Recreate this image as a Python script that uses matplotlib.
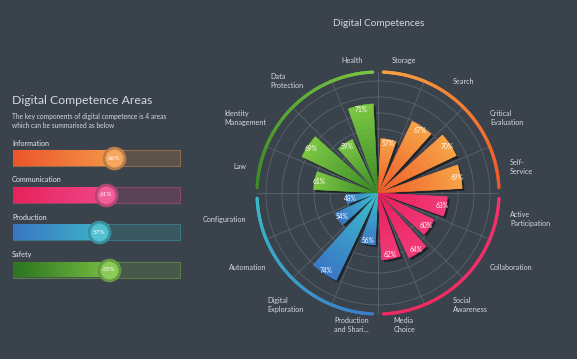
import numpy as np
import matplotlib
matplotlib.use("Agg")
import matplotlib.pyplot as plt
import matplotlib.colors as mcolors
import matplotlib.patheffects as pe
from matplotlib.collections import LineCollection

plt.rcParams['font.family'] = ['Lato', 'DejaVu Sans']

BG = "#3a424b"
TXT = "#d3d8de"

# ---- data ----
categories = ["Storage", "Search", "Critical\nEvaluation", "Self-\nService",
              "Active\nParticipation", "Collaboration", "Social\nAwareness", "Media\nChoice",
              "Production\nand Shari...", "Digital\nExploration", "Automation", "Configuration",
              "Law", "Identity\nManagement", "Data\nProtection", "Health"]
values = [57, 67, 70, 69,
          63, 60, 64, 62,
          56, 74, 54, 48,
          61, 69, 59, 71]

areas = ["Information", "Communication", "Production", "Safety"]
area_values = [66, 61, 57, 63]

# colours per quadrant: (base, tip)
quad_colors = [("#ee5e2a", "#f7a246"),
               ("#e71f5c", "#f23a78"),
               ("#3cc0cc", "#3a78c6"),
               ("#3a8826", "#7cc644")]
area_grad = [("#ec552c", "#f59c4a"),
             ("#e6225c", "#f04a8c"),
             ("#3a76c4", "#3cb8c8"),
             ("#2c7420", "#7cc444")]

W, H = 577, 359
fig = plt.figure(figsize=(W / 100, H / 100), dpi=100, facecolor=BG)


def fx(x):
    return x / W


def fy(y):
    return 1 - y / H


def mix(c1, c2, t):
    a = np.array(mcolors.to_rgb(c1))
    b = np.array(mcolors.to_rgb(c2))
    return tuple(a + (b - a) * t)


# =========================
# LEFT PANEL
# =========================
fig.text(fx(12), fy(101), "Digital Competence Areas", fontsize=8.8, color=TXT, va="center")
fig.text(fx(12), fy(116), "The key components of digital competence is 4 areas",
         fontsize=4.8, color=TXT, va="center")
fig.text(fx(12), fy(126), "which can be summarised as below", fontsize=4.8, color=TXT, va="center")

label_y = [143, 180, 217, 254]
row_y = [158, 195, 232, 269.5]
for name, ly in zip(areas, label_y):
    fig.text(fx(12), fy(ly), name, fontsize=5.2, color="#e4e8ec", va="center")

axb = fig.add_axes([fx(12), fy(282), fx(181) - fx(12), fy(145) - fy(282)])
axb.set_facecolor("none")
axb.set_xlim(-0.6, 100.6)
axb.set_ylim(282, 145)
axb.axis("off")

for i, (v, y) in enumerate(zip(area_values, row_y)):
    c0, c1 = area_grad[i]
    axb.barh(y, 100, height=16, color=mix(c1, BG, 0.82), edgecolor=mix(c1, BG, 0.55), lw=0.8)
    fill = axb.barh(y, v, height=16, color="none", lw=0)[0]
    grad = np.linspace(0, 1, 256).reshape(1, -1)
    cmap = mcolors.LinearSegmentedColormap.from_list("g%d" % i, [c0, c1])
    im = axb.imshow(grad, extent=(0, v, y + 8, y - 8), aspect="auto", cmap=cmap, zorder=2)
    im.set_clip_path(fill)
    kx = v - 5.3
    axb.scatter([kx], [y], s=290, color=mix(c1, BG, 0.35), zorder=3, lw=0)
    axb.scatter([kx], [y], s=170, color=mix(c1, "white", 0.12), zorder=4,
                edgecolor=mix(c1, BG, 0.15), lw=0.6)
    axb.text(kx, y, "%d%%" % v, fontsize=4.6, color="white", ha="center", va="center", zorder=5)

# =========================
# POLAR CHART
# =========================
fig.text(fx(379), fy(23), "Digital Competences", fontsize=7.2, color=TXT, ha="center", va="center")

CX, CY, R = 378, 193, 121
PX_PER_UNIT = 2.48
R_MIN = 35
R_MAX = R_MIN + R / PX_PER_UNIT

ax = fig.add_axes([fx(CX - R), fy(CY + R), 2 * R / W, 2 * R / H], projection="polar")
ax.set_facecolor("none")
ax.set_theta_zero_location("N")
ax.set_theta_direction(-1)
ax.set_ylim(R_MIN, R_MAX)
ax.spines["polar"].set_visible(False)
ax.set_xticks(np.deg2rad(np.arange(0, 360, 22.5)))
ax.set_xticklabels([])
ax.set_yticks(R_MIN + 16 / PX_PER_UNIT * np.arange(1, 8))
ax.set_yticklabels([])
ax.tick_params(length=0)
ax.grid(color="#5a646f", lw=0.6)

step = 2 * np.pi / len(categories)
theta = step * (np.arange(len(categories)) + 0.5)
bw = np.deg2rad(16.5)

nseg = 18
for i, (t, v) in enumerate(zip(theta, values)):
    c0, c1 = quad_colors[i // 4]
    ax.bar(t, v - R_MIN, width=bw, bottom=R_MIN, color=c0, lw=0, zorder=2,
           path_effects=[pe.SimplePatchShadow(offset=(1.6, -1.6), shadow_rgbFace="#14181c", alpha=0.75),
                         pe.Normal()])
    edges = np.linspace(R_MIN, v, nseg + 1)
    for j in range(nseg):
        col = mix(c0, c1, j / (nseg - 1))
        ax.bar(t, edges[j + 1] - edges[j], width=bw, bottom=edges[j], color=col,
               edgecolor=col, lw=0.3, zorder=3)
    ax.text(t, v - 1.6, "%d%%" % v, fontsize=4.8, color="white", ha="center", va="center", zorder=5)

# category labels
r_lab = R_MIN + 134.6 / PX_PER_UNIT
for t, name in zip(theta, categories):
    deg = np.rad2deg(t)
    if deg < 15 or deg > 345 or 165 < deg < 195:
        ha = "center"
    elif deg < 180:
        ha = "left"
    else:
        ha = "right"
    ax.text(t, r_lab, name, fontsize=5.2, color=TXT, ha=ha, va="center",
            multialignment="left", linespacing=1.35)

# outer arcs per quadrant
arc_colors = [("#f7a342", "#ee5828"),
              ("#f0336c", "#ec2a62"),
              ("#3a7cc8", "#3cb8c8"),
              ("#3a8826", "#7cc644")]
for q in range(4):
    a = np.deg2rad(np.linspace(90 * q + 2.5, 90 * q + 87.5, 120))
    pts = np.column_stack([a, np.full_like(a, R_MAX)])
    segs = np.stack([pts[:-1], pts[1:]], axis=1)
    cols = [mix(arc_colors[q][0], arc_colors[q][1], k / (len(segs) - 1)) for k in range(len(segs))]
    lc = LineCollection(segs, colors=cols, linewidths=2.3, capstyle="round", clip_on=False, zorder=4)
    ax.add_collection(lc)

fig.savefig("out.png", dpi=100, facecolor=BG)
